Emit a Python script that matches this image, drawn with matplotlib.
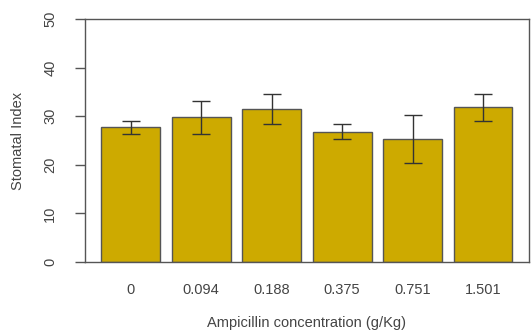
import numpy as np
import matplotlib
matplotlib.use("Agg")
import matplotlib.pyplot as plt

plt.rcParams['font.family'] = ['Liberation Sans', 'DejaVu Sans']

# data
conc_labels = ["0", "0.094", "0.188", "0.375", "0.751", "1.501"]
stomatal_index = [27.7, 29.8, 31.4, 26.8, 25.3, 31.8]
err = [1.4, 3.4, 3.1, 1.5, 5.0, 2.7]

fig = plt.figure(figsize=(5.31, 3.33), dpi=100)
ax = fig.add_axes([0.160, 0.213, 0.836, 0.730])

# R barplot style layout: width 1, space 0.2
x = 0.2 + np.arange(len(conc_labels)) * 1.2 + 0.5
ax.bar(x, stomatal_index, width=1.0, color="#CDAA00", edgecolor="#555555", linewidth=1.0)
ax.errorbar(x, stomatal_index, yerr=err, fmt="none", ecolor="#333333",
            elinewidth=1.0, capsize=6.5, capthick=1.0)

ax.set_xlim(-0.08, 7.48)
ax.set_ylim(0, 50)
ax.set_yticks([0, 10, 20, 30, 40, 50])
ax.set_xticks(x)
ax.set_xticklabels(conc_labels)

for s in ax.spines.values():
    s.set_color("#555555")
    s.set_linewidth(1.0)

ax.tick_params(axis="x", length=0, pad=15, labelsize=10.5, labelcolor="#444444")
ax.tick_params(axis="y", length=7, width=1.0, color="#555555", pad=13,
               labelsize=10.5, labelcolor="#444444", labelrotation=90)
for lab in ax.get_yticklabels():
    lab.set_va("center")

ax.set_xlabel("Ampicillin concentration (g/Kg)", fontsize=10.5, color="#444444", labelpad=14)
ax.set_ylabel("Stomatal Index", fontsize=10.5, color="#444444", labelpad=13)

fig.savefig("out.png", dpi=100)
